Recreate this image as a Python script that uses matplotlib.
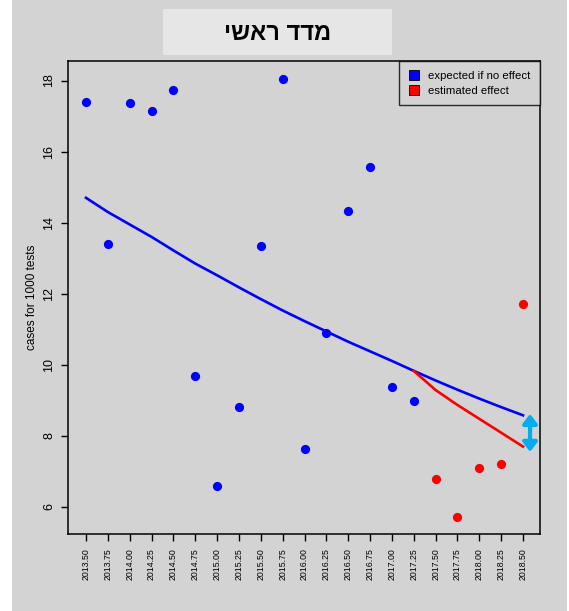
import matplotlib
matplotlib.use('Agg')
import matplotlib.pyplot as plt
from matplotlib.patches import Rectangle
from matplotlib.lines import Line2D

plt.rcParams['font.family'] = ['Liberation Sans', 'DejaVu Sans']

# quarters and observed values
quarters = [2013.50, 2013.75, 2014.00, 2014.25, 2014.50, 2014.75, 2015.00,
            2015.25, 2015.50, 2015.75, 2016.00, 2016.25, 2016.50, 2016.75,
            2017.00, 2017.25, 2017.50, 2017.75, 2018.00, 2018.25, 2018.50]
observed = [17.40, 13.40, 17.37, 17.15, 17.74, 9.69, 6.59, 8.81, 13.35, 18.05,
            7.63, 10.90, 14.33, 15.57, 9.38, 8.98, 6.79, 5.72, 7.10, 7.21, 11.71]
n_before = 16  # first 16 points before the intervention

# fitted line if no effect
expected = [14.70, 14.30, 13.95, 13.60, 13.22, 12.85, 12.52, 12.18, 11.85,
            11.53, 11.23, 10.94, 10.65, 10.38, 10.11, 9.83, 9.56, 9.30, 9.05,
            8.81, 8.58]
# estimated effect line (from 2017.25 on)
effect_x = [2017.25, 2017.50, 2017.75, 2018.00, 2018.25, 2018.50]
effect_y = [9.83, 9.29, 8.87, 8.48, 8.09, 7.70]

tick_labels = ['%.2f' % q for q in quarters]
title = 'מדד ראשי'

grey = '#d3d3d3'
fig = plt.figure(figsize=(5.69, 6.11), dpi=100, facecolor='white')
fig.patches.append(Rectangle((12 / 569, 0), 555 / 569, 1, transform=fig.transFigure,
                             facecolor=grey, edgecolor='none', zorder=-10))

ax = fig.add_axes([68 / 569, 1 - 534 / 611, 472 / 569, 473 / 611])
ax.set_facecolor(grey)

ax.scatter(quarters[:n_before], observed[:n_before], s=44, color='#0000ff', zorder=3, linewidths=0)
ax.scatter(quarters[n_before:], observed[n_before:], s=44, color='#ff0000', zorder=3, linewidths=0)
ax.plot(quarters, expected, color='#0000ff', lw=1.9, zorder=2)
ax.plot(effect_x, effect_y, color='#ff0000', lw=1.9, zorder=2)

# double arrow showing the gap
ax.annotate('', xy=(2018.58, 7.55), xytext=(2018.58, 8.62),
            arrowprops=dict(arrowstyle='<|-|>,head_length=0.55,head_width=0.42',
                            color='#00aeef', lw=3, shrinkA=0, shrinkB=0))

ax.set_xlim(2013.294, 2018.694)
ax.set_ylim(5.24, 18.55)
ax.set_xticks(quarters)
ax.set_xticklabels(tick_labels, rotation=90, fontsize=6.3)
ax.set_yticks([6, 8, 10, 12, 14, 16, 18])
ax.set_yticklabels(['6', '8', '10', '12', '14', '16', '18'], rotation=90, va='center', fontsize=9)
ax.tick_params(axis='x', length=5, width=1, pad=5)
ax.tick_params(axis='y', length=5, width=1, pad=4)
for s in ax.spines.values():
    s.set_linewidth(1.1)
ax.set_ylabel('cases for 1000 tests', fontsize=8.5, labelpad=4)

handles = [Line2D([], [], marker='s', ls='none', markersize=6.5, markerfacecolor='#0000ff',
                  markeredgecolor='black', markeredgewidth=0.6),
           Line2D([], [], marker='s', ls='none', markersize=6.5, markerfacecolor='#ff0000',
                  markeredgecolor='black', markeredgewidth=0.6)]
leg = ax.legend(handles, ['expected if no effect', 'estimated effect'], loc='upper right',
                fontsize=8.2, frameon=True, fancybox=False, borderaxespad=0,
                handlelength=1, handletextpad=0.7, labelspacing=0.45, borderpad=0.85,
                bbox_to_anchor=(1.0, 1.0))
leg.get_frame().set_facecolor(grey)
leg.get_frame().set_edgecolor('black')
leg.get_frame().set_linewidth(1.0)

# title box
fig.patches.append(Rectangle((163 / 569, 1 - 55 / 611), 229 / 569, 46 / 611,
                             transform=fig.transFigure, facecolor='#e6e6e6',
                             edgecolor='none', zorder=-5))
fig.text(277.5 / 569, 1 - 33 / 611, title[::-1], ha='center', va='center',
         fontsize=17, fontweight='bold')

fig.savefig('out.png', dpi=100, facecolor=fig.get_facecolor())
